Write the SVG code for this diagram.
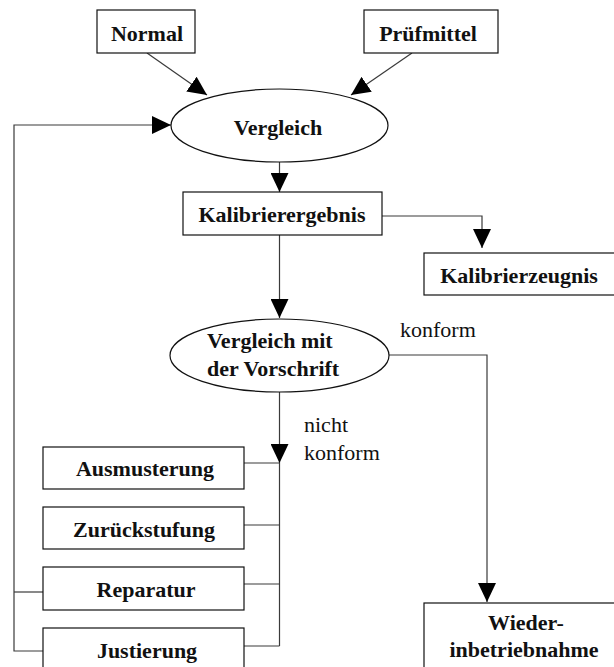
<svg xmlns="http://www.w3.org/2000/svg" width="614" height="667" viewBox="0 0 614 667">
  <style>
    .box { fill: #fff; stroke: #111; stroke-width: 1.2; }
    .ell { fill: #fff; stroke: #111; stroke-width: 1.2; }
    .lbl { font-family: "Liberation Serif", "Times New Roman", serif; font-size: 22px; font-weight: bold; fill: #111; text-anchor: middle; }
    .note { font-family: "Liberation Serif", "Times New Roman", serif; font-size: 22px; fill: #111; }
    .wire { fill: none; stroke: #3a3a3a; stroke-width: 1.2; }
  </style>
  <defs>
    <marker id="head" viewBox="0 0 19 18" refX="19" refY="9" markerWidth="19" markerHeight="18" markerUnits="userSpaceOnUse" orient="auto">
      <path d="M0,0 L19,9 L0,18 Z" fill="#000"/>
    </marker>
  </defs>

  <rect width="614" height="667" fill="#fff"/>

  <!-- connectors -->
  <g id="connectors">
    <path class="wire" d="M147,53 L207,95" marker-end="url(#head)"/>
    <path class="wire" d="M412,53 L351,95" marker-end="url(#head)"/>
    <path class="wire" d="M279.5,162 V192" marker-end="url(#head)"/>
    <path class="wire" d="M382,216 H482 V248" marker-end="url(#head)"/>
    <path class="wire" d="M279.5,235 V318" marker-end="url(#head)"/>
    <path class="wire" d="M389,355 H487 V602" marker-end="url(#head)"/>
    <path class="wire" d="M279.5,392 V463" marker-end="url(#head)"/>
    <path class="wire" d="M279.5,463 V646"/>
    <path class="wire" d="M244,463 H279.5"/>
    <path class="wire" d="M244,525 H279.5"/>
    <path class="wire" d="M244,584 H279.5"/>
    <path class="wire" d="M244,646 H279.5"/>
    <path class="wire" d="M43,651 H14 V125 H171" marker-end="url(#head)"/>
    <path class="wire" d="M43,592 H14"/>
    <text class="note" x="400" y="337">konform</text>
    <text class="note" x="304" y="432">nicht</text>
    <text class="note" x="304" y="460">konform</text>
  </g>

  <g id="normal">
    <rect class="box" x="97" y="10" width="98" height="43"/>
    <text class="lbl" x="147" y="41">Normal</text>
  </g>

  <g id="pruefmittel">
    <rect class="box" x="364" y="10" width="134" height="43"/>
    <text class="lbl" x="428" y="41">Prüfmittel</text>
  </g>

  <g id="vergleich">
    <ellipse class="ell" cx="279.5" cy="125.5" rx="108.5" ry="36.5"/>
    <text class="lbl" x="278" y="135">Vergleich</text>
  </g>

  <g id="kalibrierergebnis">
    <rect class="box" x="183" y="192" width="199" height="43"/>
    <text class="lbl" x="282" y="222">Kalibrierergebnis</text>
  </g>

  <g id="kalibrierzeugnis">
    <rect class="box" x="424" y="253" width="194" height="42"/>
    <text class="lbl" x="519" y="283">Kalibrierzeugnis</text>
  </g>

  <g id="vergleich-vorschrift">
    <ellipse class="ell" cx="279.5" cy="355.5" rx="109.5" ry="36.5"/>
    <text class="lbl" x="207" y="348" style="text-anchor:start">Vergleich mit</text>
    <text class="lbl" x="207" y="376" style="text-anchor:start">der Vorschrift</text>
  </g>

  <g id="ausmusterung">
    <rect class="box" x="43" y="447" width="201" height="42"/>
    <text class="lbl" x="145" y="476">Ausmusterung</text>
  </g>

  <g id="zurueckstufung">
    <rect class="box" x="43" y="507" width="201" height="42"/>
    <text class="lbl" x="144" y="537">Zurückstufung</text>
  </g>

  <g id="reparatur">
    <rect class="box" x="43" y="567" width="201" height="43"/>
    <text class="lbl" x="146" y="597">Reparatur</text>
  </g>

  <g id="justierung">
    <rect class="box" x="43" y="628" width="201" height="50"/>
    <text class="lbl" x="147" y="658">Justierung</text>
  </g>

  <g id="wiederinbetriebnahme">
    <rect class="box" x="424" y="603" width="200" height="80"/>
    <text class="lbl" x="526" y="630">Wieder-</text>
    <text class="lbl" x="524" y="657">inbetriebnahme</text>
  </g>
</svg>
